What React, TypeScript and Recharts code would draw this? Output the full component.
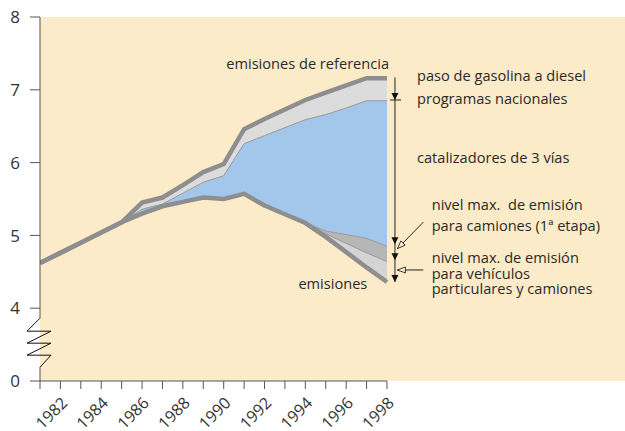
import {
  Area,
  CartesianGrid,
  ComposedChart,
  Line,
  ReferenceDot,
  ReferenceLine,
  XAxis,
  YAxis,
} from "recharts";

// años y series (millones de toneladas, eje cortado entre 0 y 4)
const years = [
  1981, 1982, 1983, 1984, 1985, 1986, 1987, 1988, 1989, 1990, 1991, 1992,
  1993, 1994, 1995, 1996, 1997, 1998,
];
const referencia = [
  4.62, 4.76, 4.9, 5.04, 5.18, 5.45, 5.52, 5.69, 5.87, 5.98, 6.46, 6.6, 6.73,
  6.86, 6.96, 7.06, 7.16, 7.16,
];
const diesel = [
  4.62, 4.76, 4.9, 5.04, 5.18, 5.36, 5.43, 5.58, 5.73, 5.82, 6.26, 6.37, 6.48,
  6.59, 6.66, 6.75, 6.85, 6.85,
];
const catalizadores = [
  4.62, 4.76, 4.9, 5.04, 5.18, 5.3, 5.4, 5.46, 5.52, 5.5, 5.57, 5.41, 5.29,
  5.17, 5.06, 5.01, 4.96, 4.85,
];
const camiones = [
  4.62, 4.76, 4.9, 5.04, 5.18, 5.3, 5.4, 5.46, 5.52, 5.5, 5.57, 5.41, 5.29,
  5.17, 5.02, 4.89, 4.76, 4.64,
];
const emisiones = [
  4.62, 4.76, 4.9, 5.04, 5.18, 5.3, 5.4, 5.46, 5.52, 5.5, 5.57, 5.41, 5.29,
  5.17, 4.98, 4.77, 4.56, 4.36,
];

const yTicks = [3, 4, 5, 6, 7, 8];
const yTickLabels = ["0", "4", "5", "6", "7", "8"];

const data = years.map((year, i) => ({
  year,
  referencia: referencia[i],
  diesel: diesel[i],
  catalizadores: catalizadores[i],
  camiones: camiones[i],
  emisiones: emisiones[i],
}));

const notas = [
  { texto: "emisiones de referencia", x: 1998.1, y: 7.29, anchor: "end" },
  { texto: "paso de gasolina a diesel", x: 1999.47, y: 7.12 },
  { texto: "programas nacionales", x: 1999.47, y: 6.81 },
  { texto: "catalizadores de 3 vías", x: 1999.47, y: 5.99 },
  { texto: "nivel max.  de emisión", x: 2000.19, y: 5.35 },
  { texto: "para camiones (1ª etapa)", x: 2000.19, y: 5.06 },
  { texto: "nivel max. de emisión", x: 2000.19, y: 4.62 },
  { texto: "para vehículos", x: 2000.19, y: 4.4 },
  { texto: "particulares y camiones", x: 2000.19, y: 4.19 },
  { texto: "emisiones", x: 1993.66, y: 4.26 },
];

const BRACKET_X = 1998.39;
const flechas = [6.86, 4.88, 4.66, 4.36];

const FONT = "'Open Sans', sans-serif";
const GRIS = "#8e8e8e";
const EJE = "#555";

const XTick = ({ x, y, payload }: any) => {
  if (payload.value % 2 !== 0) return null;
  const tx = x + 8;
  const ty = y + 13;
  return (
    <text
      x={tx}
      y={ty}
      transform={`rotate(-45 ${tx} ${ty})`}
      textAnchor="end"
      fontSize={16}
      fontFamily={FONT}
      fill="#333"
    >
      {payload.value}
    </text>
  );
};

const YTick = ({ x, y, payload }: any) => (
  <text
    x={x}
    y={y}
    dy="0.36em"
    textAnchor="end"
    fontSize={17}
    fontFamily={FONT}
    fill="#333"
  >
    {yTickLabels[yTicks.indexOf(payload.value)]}
  </text>
);

const Nota = (texto: string, anchor: string) => (p: any) => (
  <text
    x={p.cx}
    y={p.cy}
    textAnchor={anchor}
    fontSize={14.6}
    fontFamily={FONT}
    fill="#2a2a2a"
    style={{ whiteSpace: "pre" }}
  >
    {texto}
  </text>
);

const PuntaLlena = (p: any) => (
  <polygon
    points={`${p.cx - 3.5},${p.cy - 7} ${p.cx + 3.5},${p.cy - 7} ${p.cx},${p.cy}`}
    fill="#111"
  />
);

const PuntaAbierta = (angle: number) => (p: any) => (
  <polygon
    points="0,0 8,-3 8,3"
    transform={`translate(${p.cx} ${p.cy}) rotate(${angle})`}
    fill="#fcebc8"
    stroke="#111"
    strokeWidth={0.8}
  />
);

const Zigzag = (p: any) => {
  const { cx, cy } = p;
  const d = `M${cx},${cy} L${cx - 13},${cy + 13} L${cx + 11},${cy + 13} L${cx - 13},${cy + 25} L${cx + 11},${cy + 25} L${cx - 13},${cy + 37} L${cx + 11},${cy + 37} L${cx},${cy + 49}`;
  return <path d={d} fill="none" stroke="#111" strokeWidth={1} />;
};

export default function App() {
  return (
    <div style={{ position: "absolute", left: 0, top: 0 }}>
      <ComposedChart
        width={625}
        height={431}
        data={data}
        margin={{ top: 17, right: 0, bottom: 0, left: 0 }}
      >
        <CartesianGrid
          fill="#fcebc8"
          stroke="none"
          horizontal={false}
          vertical={false}
        />
        <XAxis
          dataKey="year"
          type="number"
          domain={[1981, 2009.66]}
          allowDataOverflow
          ticks={years}
          interval={0}
          height={50}
          axisLine={false}
          tickLine={{ stroke: EJE }}
          tickSize={8}
          tick={<XTick />}
        />
        <YAxis
          type="number"
          domain={[3, 8]}
          ticks={yTicks}
          interval={0}
          width={40}
          axisLine={false}
          tickLine={{ stroke: EJE }}
          tickSize={10}
          tickMargin={10}
          tick={<YTick />}
        />

        <Area
          dataKey={(d: any) => [d.diesel, d.referencia]}
          fill="#dcdcdc"
          fillOpacity={1}
          stroke="none"
          isAnimationActive={false}
        />
        <Area
          dataKey={(d: any) => [d.catalizadores, d.diesel]}
          fill="#a3c7eb"
          fillOpacity={1}
          stroke="none"
          isAnimationActive={false}
        />
        <Area
          dataKey={(d: any) => [d.camiones, d.catalizadores]}
          fill="#b6b6b6"
          fillOpacity={1}
          stroke="none"
          isAnimationActive={false}
        />
        <Area
          dataKey={(d: any) => [d.emisiones, d.camiones]}
          fill="#d4d4d4"
          fillOpacity={1}
          stroke="none"
          isAnimationActive={false}
        />
        <Line dataKey="diesel" stroke="#999" strokeWidth={1} dot={false} isAnimationActive={false} />
        <Line dataKey="catalizadores" stroke="#999" strokeWidth={1} dot={false} isAnimationActive={false} />
        <Line dataKey="camiones" stroke="#999" strokeWidth={1} dot={false} isAnimationActive={false} />
        <Line
          dataKey="referencia"
          stroke={GRIS}
          strokeWidth={4.5}
          strokeLinejoin="miter"
          dot={false}
          isAnimationActive={false}
        />
        <Line
          dataKey="emisiones"
          stroke={GRIS}
          strokeWidth={4.5}
          strokeLinejoin="miter"
          dot={false}
          isAnimationActive={false}
        />

        {/* ejes con corte */}
        <ReferenceLine segment={[{ x: 1981, y: 8 }, { x: 1981, y: 3.863 }]} stroke={EJE} />
        <ReferenceLine segment={[{ x: 1981, y: 3.19 }, { x: 1981, y: 3 }]} stroke={EJE} />
        <ReferenceLine segment={[{ x: 1981, y: 3 }, { x: 1998, y: 3 }]} stroke={EJE} />
        <ReferenceDot x={1981} y={3.863} shape={Zigzag} />

        {/* llave de la derecha */}
        <ReferenceLine segment={[{ x: BRACKET_X, y: 7.17 }, { x: BRACKET_X, y: 4.36 }]} stroke="#222" />
        <ReferenceLine segment={[{ x: 1998.15, y: 6.86 }, { x: 1998.69, y: 6.86 }]} stroke="#222" />
        {flechas.map((v) => (
          <ReferenceDot key={v} x={BRACKET_X} y={v} shape={PuntaLlena} />
        ))}
        <ReferenceLine segment={[{ x: 1999.78, y: 5.182 }, { x: 1998.51, y: 4.818 }]} stroke="#222" />
        <ReferenceDot x={1998.51} y={4.818} shape={PuntaAbierta(-45)} />
        <ReferenceLine segment={[{ x: 1999.78, y: 4.525 }, { x: 1998.51, y: 4.525 }]} stroke="#222" />
        <ReferenceDot x={1998.51} y={4.525} shape={PuntaAbierta(0)} />

        {notas.map((n) => (
          <ReferenceDot
            key={n.texto}
            x={n.x}
            y={n.y}
            shape={Nota(n.texto, n.anchor || "start")}
          />
        ))}
      </ComposedChart>
    </div>
  );
}
